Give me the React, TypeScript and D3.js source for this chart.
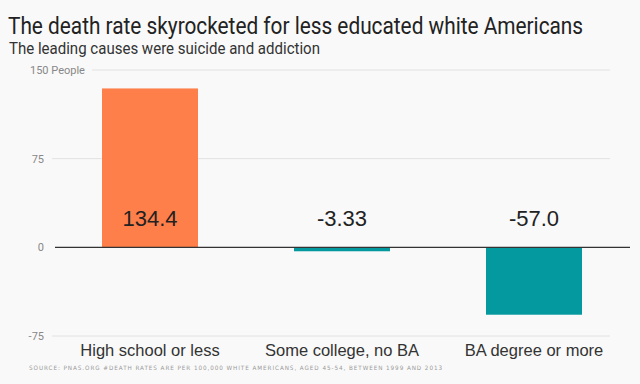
import * as d3 from 'd3';

const categories = ['High school or less', 'Some college, no BA', 'BA degree or more'];
const values = [134.4, -3.33, -57.0];
const valueLabels = ['134.4', '-3.33', '-57.0'];
const yTicks = [150, 75, 0, -75];

const title = 'The death rate skyrocketed for less educated white Americans';
const subtitle = 'The leading causes were suicide and addiction';
const source = 'SOURCE: PNAS.ORG #DEATH RATES ARE PER 100,000 WHITE AMERICANS, AGED 45-54, BETWEEN 1999 AND 2013';

const App = () => {
  const width = 640;
  const height = 384;

  const x = d3.scaleBand<string>()
    .domain(categories)
    .range([54, 630])
    .paddingInner(0.5)
    .paddingOuter(0.25);

  const y = d3.scaleLinear()
    .domain([-75, 150])
    .range([336, 70]);

  const orange = '#ff7f4b';
  const teal = '#04999f';

  return (
    <svg width={width} height={height}
      style={{ position: 'fixed', top: 0, left: 0, display: 'block', background: '#f9f9f9' }}>
      <rect x={0} y={0} width={width} height={height} fill="#f9f9f9" />
      {/* condensed look via horizontal scale */}
      <g transform="translate(8,34) scale(0.905,1)">
        <text x={0} y={0} fontFamily="Roboto, sans-serif" fontSize={23} fill="#222">{title}</text>
      </g>
      <g transform="translate(9,54) scale(0.94,1)">
        <text x={0} y={0} fontFamily="Roboto, sans-serif" fontSize={16} fill="#333">{subtitle}</text>
      </g>

      {/* grid lines */}
      {yTicks.filter(t => t !== 0).map(t => (
        <line key={t} x1={t === 150 ? 92 : 52} x2={610} y1={y(t)} y2={y(t)}
          stroke="#e2e2e2" strokeWidth={1} />
      ))}
      {yTicks.map(t => (
        <text key={'l' + t} x={t === 150 ? 30 : 44} y={y(t)} dy="0.35em"
          textAnchor={t === 150 ? 'start' : 'end'}
          fontFamily="Roboto, sans-serif" fontSize={11} fill="#888">
          {t === 150 ? '150 People' : t}
        </text>
      ))}

      {/* bars */}
      {categories.map((c, i) => (
        <rect key={c}
          x={x(c)}
          y={y(Math.max(0, values[i]))}
          width={x.bandwidth()}
          height={Math.abs(y(values[i]) - y(0))}
          fill={values[i] >= 0 ? orange : teal} />
      ))}

      <line x1={55} x2={630} y1={y(0)} y2={y(0)} stroke="#333" strokeWidth={1.2} />

      {categories.map((c, i) => (
        <text key={'v' + c} x={(x(c) ?? 0) + x.bandwidth() / 2} y={226} textAnchor="middle"
          fontFamily="'Liberation Sans', Arial, sans-serif" fontSize={22} fill="#222">
          {valueLabels[i]}
        </text>
      ))}

      {categories.map(c => (
        <text key={'c' + c} x={(x(c) ?? 0) + x.bandwidth() / 2} y={356} textAnchor="middle"
          fontFamily="'Liberation Sans', Arial, sans-serif" fontSize={16.5} fill="#333">
          {c}
        </text>
      ))}

      <text x={29} y={370} fontFamily="'DejaVu Sans', sans-serif" fontSize={6} fill="#999"
        textLength={414} lengthAdjust="spacingAndGlyphs" letterSpacing={1}>{source}</text>
    </svg>
  );
};

export default App;
